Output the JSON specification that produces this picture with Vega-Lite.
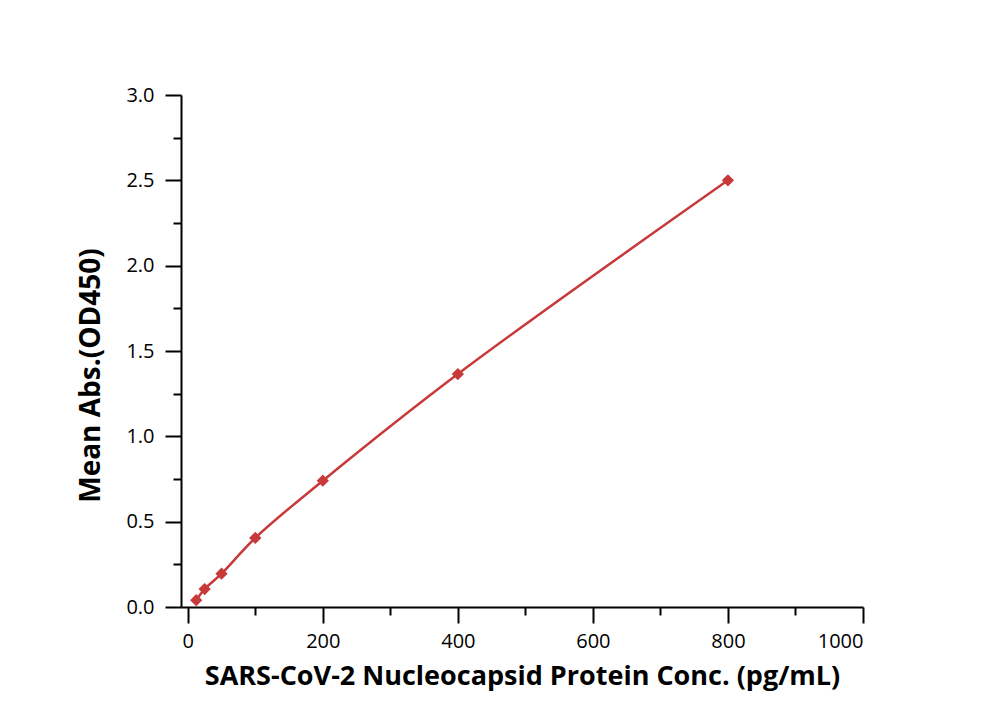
{
  "$schema": "https://vega.github.io/schema/vega-lite/v6.json",
  "width": 682,
  "height": 512,
  "autosize": "none",
  "padding": {"left": 181, "top": 95, "right": 137, "bottom": 107},
  "background": "white",
  "config": {"view": {"stroke": null}, "font": "Open Sans"},
  "data": {"values": [
    {"conc": 12.5, "od": 0.04},
    {"conc": 25, "od": 0.105},
    {"conc": 50, "od": 0.195},
    {"conc": 100, "od": 0.405},
    {"conc": 200, "od": 0.74},
    {"conc": 400, "od": 1.365},
    {"conc": 800, "od": 2.5}
  ]},
  "layer": [
    {
      "mark": {"type": "line", "interpolate": "catmull-rom", "color": "#c8393a", "strokeWidth": 2.5},
      "encoding": {
        "x": {"field": "conc", "type": "quantitative", "scale": {"domain": [-10, 1000], "nice": false, "zero": false},
          "axis": {"orient": "bottom", "values": [0, 200, 400, 600, 800, 1000], "title": "SARS-CoV-2 Nucleocapsid Protein Conc. (pg/mL)", "grid": false,
            "domainColor": "black", "domainWidth": 2, "tickColor": "black", "tickWidth": 2, "tickSize": 16,
            "labelFont": "Open Sans", "labelFontSize": 20, "labelColor": "black", "labelPadding": 8, "format": "d",
            "titleFont": "Open Sans", "titleFontSize": 27, "titleFontWeight": "bold", "titleColor": "black", "titlePadding": 12}},
        "y": {"field": "od", "type": "quantitative", "scale": {"domain": [0, 3], "nice": false},
          "axis": {"orient": "left", "values": [0, 0.5, 1, 1.5, 2, 2.5, 3], "title": "Mean Abs.(OD450)", "grid": false, "format": ".1f",
            "domainColor": "black", "domainWidth": 2, "tickColor": "black", "tickWidth": 2, "tickSize": 16,
            "labelFont": "Open Sans", "labelFontSize": 20, "labelColor": "black", "labelPadding": 11,
            "titleFont": "Open Sans", "titleFontSize": 28, "titleFontWeight": "bold", "titleColor": "black", "titlePadding": 20, "titleY": 280}}
      }
    },
    {
      "mark": {"type": "point", "shape": "diamond", "filled": true, "color": "#c8393a", "size": 150, "opacity": 1},
      "encoding": {
        "x": {"field": "conc", "type": "quantitative",
          "axis": {"orient": "bottom", "values": [100, 300, 500, 700, 900], "title": null, "labels": false, "grid": false, "domain": false,
            "tickColor": "black", "tickWidth": 2, "tickSize": 8}},
        "y": {"field": "od", "type": "quantitative",
          "axis": {"orient": "left", "values": [0.25, 0.75, 1.25, 1.75, 2.25, 2.75], "title": null, "labels": false, "grid": false, "domain": false,
            "tickColor": "black", "tickWidth": 2, "tickSize": 8}}
      }
    }
  ],
  "resolve": {"axis": {"x": "independent", "y": "independent"}}
}
